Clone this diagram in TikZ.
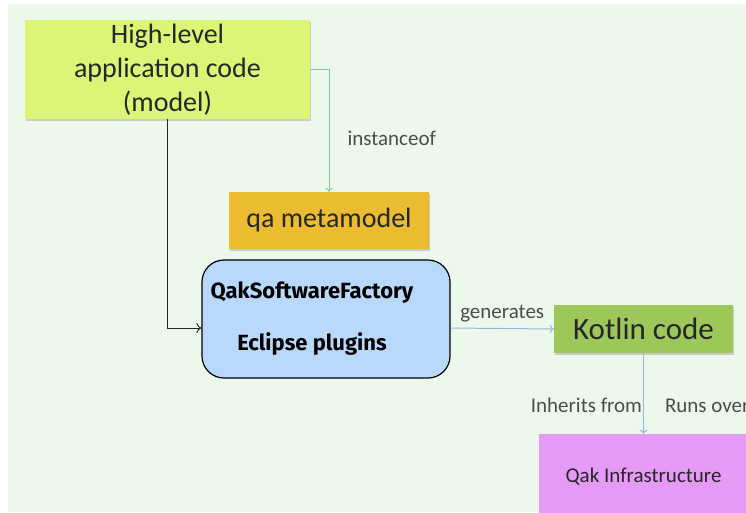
\documentclass[tikz,border=0pt]{standalone}
\usepackage{fontspec}
\setmainfont{Carlito}
\newfontfamily\plugfont{Fira Sans}
\usetikzlibrary{shapes,arrows,arrows.meta,positioning,shadows}

\definecolor{bgmint}{HTML}{EDF8EC}
\definecolor{modelgreen}{HTML}{DDF577}
\definecolor{metagold}{HTML}{EBBB30}
\definecolor{factoryblue}{HTML}{B8D9FB}
\definecolor{kotlingreen}{HTML}{9EC75A}
\definecolor{infraviolet}{HTML}{E59AF6}
\definecolor{instline}{HTML}{7ECF97}
\definecolor{genline}{HTML}{97B5E0}

\begin{document}
\begin{tikzpicture}[
    x=1pt, y=-1pt,
    block/.style={rectangle, inner sep=0pt, align=center, text=black!85,
        drop shadow={shadow xshift=0.8pt, shadow yshift=-1.5pt, opacity=0.35}},
    lbl/.style={inner sep=0pt, text=black!70, font=\fontsize{21}{25}\selectfont},
    arrow/.style={-{To[length=4pt, width=8pt]}, line width=1pt}
]

\useasboundingbox (0,0) rectangle (746,512);
\clip (0,0) rectangle (746,512);
\fill[bgmint] (8,4) rectangle (746,512);

% Model and metamodel
\node[block, fill=modelgreen, minimum width=285pt, minimum height=99pt,
    font=\fontsize{28}{34}\selectfont] (model) at (167.5,69.5) {High-level\\application code\\(model)};
\node[block, fill=metagold, minimum width=200pt, minimum height=57pt,
    font=\fontsize{28}{34}\selectfont] (meta) at (329,220.5) {qa metamodel};

% Factory
\node[draw, line width=1.2pt, rounded corners=22pt, fill=factoryblue,
    minimum width=248pt, minimum height=118pt] (qsf) at (326,319) {};
\node[align=center, inner sep=0pt, font=\plugfont\bfseries\fontsize{22}{52}\selectfont]
    (qsftext) at ([xshift=-14pt]qsf.center) {QakSoftwareFactory\\Eclipse plugins};

% Generated code and runtime
\node[block, fill=kotlingreen, minimum width=179pt, minimum height=48pt,
    font=\fontsize{31}{36}\selectfont] (kotlin) at (643.5,329) {Kotlin code};
\node[block, fill=infraviolet, minimum width=210pt, minimum height=86pt,
    font=\fontsize{21}{25}\selectfont] (infra) at (643.5,477) {Qak Infrastructure};

\draw[arrow, instline] (model.east) -| (meta.north) node[lbl, pos=0.78, right=18pt] {instanceof};
\draw[arrow, black!85, -{To[length=5pt, width=10pt]}] (model.south) |- ([yshift=-9pt]qsf.west);
\draw[arrow, genline] ([yshift=-9pt]qsf.east) -- (kotlin.west) node[lbl, midway, above=6pt] {generates};
\draw[arrow, genline] (kotlin.south) -- (infra.north)
    node[lbl, pos=0.65, left=1pt] {Inherits from}
    node[lbl, pos=0.65, right=21pt] {Runs over};

\end{tikzpicture}
\end{document}
